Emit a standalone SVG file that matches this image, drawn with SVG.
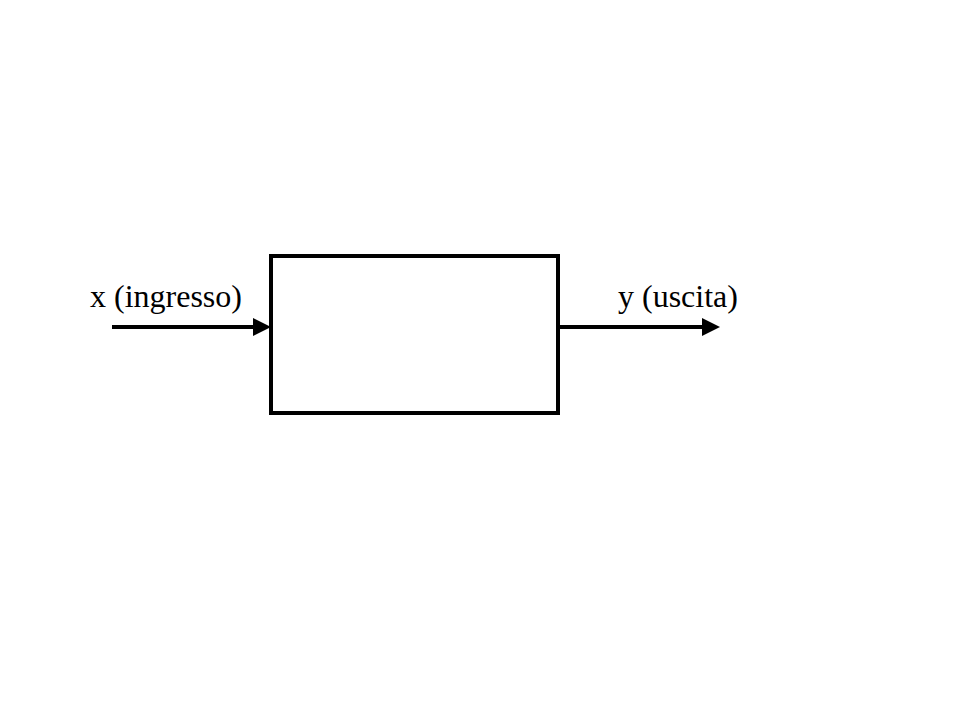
<svg xmlns="http://www.w3.org/2000/svg" width="959" height="719" viewBox="0 0 959 719">
<style>
.lbl{font-family:"Liberation Serif","Times New Roman",serif;font-size:32px;fill:#000}
.conn{stroke:#000;stroke-width:4;fill:none}
</style>
<defs>
<marker id="ah" markerWidth="18" markerHeight="18" refX="10" refY="9" orient="auto" markerUnits="userSpaceOnUse">
<path d="M0,0 L18,9 L0,18 Z" fill="#000"/>
</marker>
</defs>
<rect width="959" height="719" fill="#fff"/>
<g id="system">
<rect x="271" y="256" width="287" height="157" fill="#fff" stroke="#000" stroke-width="4"/>
</g>
<g id="input">
<text class="lbl" x="90" y="307">x (ingresso)</text>
</g>
<g id="output">
<text class="lbl" x="618" y="307">y (uscita)</text>
</g>
<g id="connectors">
<line class="conn" x1="112" y1="327" x2="263" y2="327" marker-end="url(#ah)"/>
<line class="conn" x1="560" y1="327" x2="712" y2="327" marker-end="url(#ah)"/>
</g>
</svg>
